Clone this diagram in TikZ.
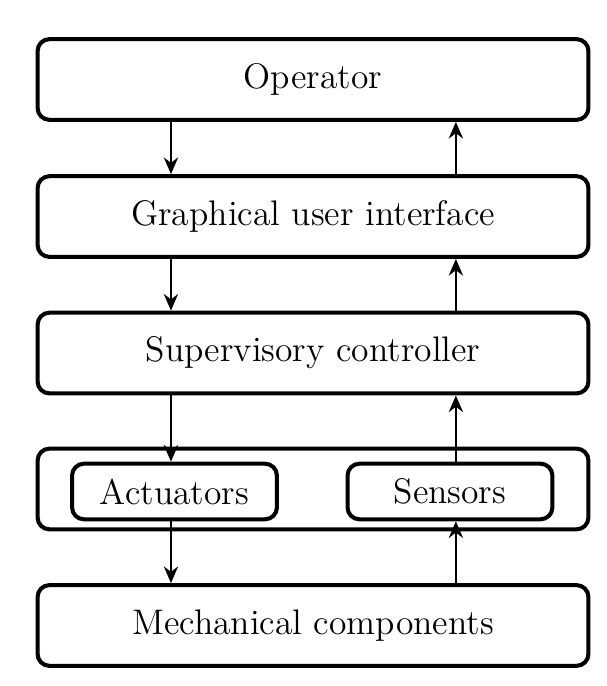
\documentclass[tikz,border=0pt]{standalone}
\usepackage{amsmath}
\usepackage{tikz}
\usetikzlibrary{positioning}
\usetikzlibrary{arrows.meta}
\tikzset{edge/.style = {-{Stealth[length=7pt,width=6pt]}, thick}}
\tikzset{block/.style = {draw, line width=1.7pt, rounded corners=5pt, minimum width=8.12cm, minimum height=1.19cm, font=\fontsize{14.9}{18}\selectfont}}
\tikzset{part/.style = {draw, line width=1.7pt, rounded corners=5pt, minimum width=3.02cm, minimum height=0.82cm, font=\fontsize{14.9}{18}\selectfont}}

\begin{document}
\begin{tikzpicture}[]
		\useasboundingbox (0,0) rectangle (8.947,10.112);

		%draw the layers
		\node[block](op) at (4.614,8.940){Operator};
		\node[block](gui) at (4.614,6.920){Graphical user interface};
		\node[block](sup) at (4.614,4.908){Supervisory controller};
		\node[block](hw) at (4.614,2.904){};
		\node[block](mech) at (4.614,0.892){Mechanical components};

		%actuators and sensors inside the hardware layer
		\node[part](act) at (2.572,2.867){Actuators};
		\node[part](sen) at (6.633,2.867){Sensors};

		%columns for the arrows
		\coordinate (down) at (2.52,0);
		\coordinate (up) at (6.72,0);

		%draw downward arrows
		\draw[edge] (op.south -| down) -- (gui.north -| down);
		\draw[edge] (gui.south -| down) -- (sup.north -| down);
		\draw[edge] (sup.south -| down) -- (act.north -| down);
		\draw[edge] (act.south -| down) -- (mech.north -| down);

		%draw upward arrows
		\draw[edge] (gui.north -| up) -- (op.south -| up);
		\draw[edge] (sup.north -| up) -- (gui.south -| up);
		\draw[edge] (sen.north -| up) -- (sup.south -| up);
		\draw[edge] (mech.north -| up) -- (sen.south -| up);
		\end{tikzpicture}
\end{document}
